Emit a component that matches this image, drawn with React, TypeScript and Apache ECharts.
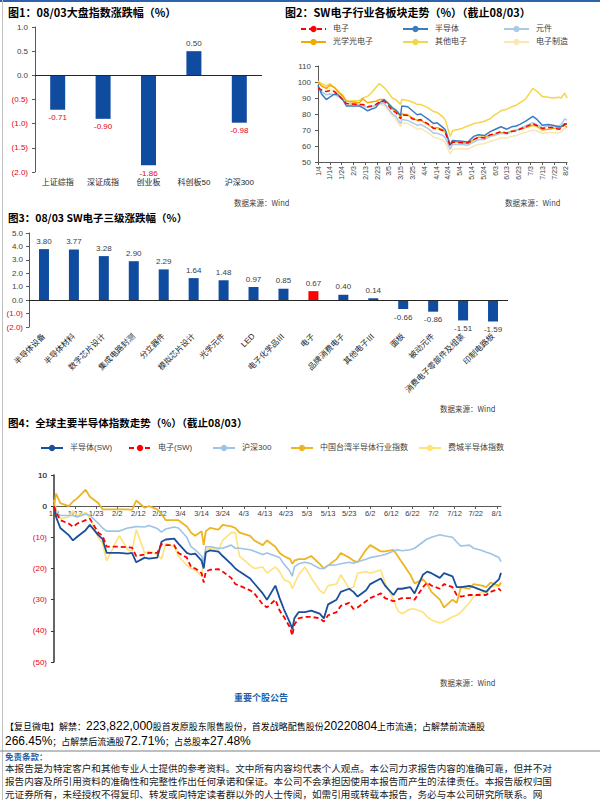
import React, { useEffect, useRef } from "react";
import * as echarts from "echarts";

// ---------------- DATA ----------------
const fig1Categories = ["上证综指", "深证成指", "创业板", "科创板50", "沪深300"];
const fig1Values = [-0.71, -0.9, -1.86, 0.5, -0.98];

const fig3Categories = [
  "半导体设备", "半导体材料", "数字芯片设计", "集成电路封测", "分立器件", "模拟芯片设计",
  "光学元件", "LED", "电子化学品Ⅲ", "电子", "品牌消费电子", "其他电子Ⅲ", "面板",
  "被动元件", "消费电子零部件及组装", "印制电路板",
];
const fig3Values = [3.8, 3.77, 3.28, 2.9, 2.29, 1.64, 1.48, 0.97, 0.85, 0.67, 0.4, 0.14, -0.66, -0.86, -1.51, -1.59];
const fig3Highlight = "电子";

// Figure 4 positive y tick labels (drawn at the axis' own pixel positions)
const fig4PositiveTicks = [10, 0];

// Figure 2: SW electronics sub-sectors (index, 1/4 = 100)
const fig2Dates = [
  "1/4", "1/7", "1/11", "1/14", "1/18", "1/21", "1/25", "1/28",
  "2/8", "2/11", "2/15", "2/18", "2/22", "2/25",
  "3/1", "3/4", "3/8", "3/11", "3/15", "3/16", "3/21", "3/25", "3/29",
  "4/1", "4/7", "4/12", "4/15", "4/20", "4/22", "4/26", "4/28",
  "5/6", "5/11", "5/16", "5/20", "5/25", "5/30",
  "6/2", "6/8", "6/13", "6/17", "6/21", "6/24", "6/29",
  "7/5", "7/8", "7/13", "7/18", "7/22", "7/27", "7/29",
  "8/1", "8/3",
];
const fig2Dianzi = [
  96.5, 95, 94, 94.5, 94, 92, 89, 86.5,
  86, 86, 84.5, 85, 86, 87.5,
  88, 86, 82, 81, 77, 79.5, 79, 77, 76,
  76.5, 74, 71, 71, 69.5, 68, 60, 62.5,
  62, 62, 64, 65.5, 65, 67,
  67.5, 69, 68, 69, 69.5, 70.5, 72,
  74, 73, 71, 71.5, 71.5, 70.5, 71,
  73.5, 74,
];
const fig2Bandaoti = [
  98, 92.5, 89, 90.5, 92.5, 92, 89, 85,
  85, 84, 82, 83, 84, 87,
  89, 87, 84, 82.5, 79, 85, 84.5, 82, 79.5,
  80, 77, 74, 74.5, 71.5, 70, 60.5, 63.5,
  63, 62.5, 66, 67, 66.5, 69,
  70, 72, 70.5, 72, 72.5, 73.5, 75.5,
  78.5, 77, 73, 73.5, 73, 72, 72,
  74, 73.5,
];
const fig2Yuanjian = [
  97, 94, 92, 92.5, 92, 91, 89, 86.5,
  86, 85.5, 84, 84.5, 85.5, 86.5,
  86.5, 84, 80, 78.5, 74, 76.5, 76, 74.5, 73,
  73.5, 71, 68, 68, 66.5, 65, 58, 61,
  61, 60.5, 62.5, 64, 64, 66,
  66.5, 68, 67.5, 69, 69.5, 71, 72.5,
  74.5, 73.5, 71.5, 72.5, 72.5, 72.5, 73.5,
  77, 76,
];
const fig2Guangxue = [
  100, 97.5, 96, 98, 96.5, 94, 91, 88,
  87, 89.5, 87, 87.5, 88, 89,
  89, 87, 83, 82, 78.5, 80, 79.5, 77.5, 76,
  76, 73.5, 71, 71.5, 70, 68.5, 61, 63,
  62, 61.5, 64, 65.5, 65.5, 67,
  67, 68.5, 68, 69.5, 70, 70.5, 71.5,
  73, 72.5, 70, 70.5, 71, 71.5, 72,
  73, 71.5,
];
const fig2Qita = [
  100.5, 99, 97.5, 99, 96.5, 94, 92, 88,
  88.5, 90, 91, 93, 96.5, 99,
  96.5, 94, 90, 89, 86, 89, 88.5, 87.5, 86,
  86, 84, 81.5, 81, 78, 76, 66, 69.5,
  71, 72.5, 74, 74.5, 75.5, 77,
  79, 82, 83, 84.5, 85.5, 87, 89.5,
  96, 94.5, 91, 90.5, 90, 90.5, 90,
  93, 90,
];
const fig2Zhizao = [
  99.5, 98, 96, 95.5, 94, 92, 89, 86,
  85.5, 85, 84, 84.5, 85, 86,
  85.5, 83, 79, 77, 72, 74.5, 74, 72.5, 70.5,
  71, 68.5, 65.5, 65, 63.5, 62, 55, 58,
  58.5, 58, 60, 61, 61.5, 63,
  63.5, 65, 65, 66, 66.5, 67.5, 68.5,
  70, 69.5, 68, 68.5, 68.5, 68, 69,
  71, 70,
];

// Figure 4: global semiconductor indices (% change since 1/3)
const fig4Dates = [
  "1/3", "1/4", "1/6", "1/10", "1/12", "1/14", "1/18", "1/20", "1/24", "1/26", "1/28",
  "2/1", "2/3", "2/7", "2/9", "2/11", "2/15", "2/17", "2/21", "2/23", "2/25",
  "3/1", "3/3", "3/7", "3/9", "3/11", "3/14", "3/15", "3/16", "3/18", "3/22", "3/24", "3/28", "3/30",
  "4/1", "4/6", "4/8", "4/12", "4/14", "4/18", "4/20", "4/22", "4/25", "4/26", "4/27", "4/29",
  "5/2", "5/5", "5/9", "5/11", "5/13", "5/17", "5/19", "5/23", "5/25", "5/27", "5/31",
  "6/2", "6/7", "6/9", "6/13", "6/15", "6/17", "6/21", "6/23", "6/27", "6/29",
  "7/1", "7/5", "7/7", "7/11", "7/13", "7/15", "7/19", "7/21", "7/25", "7/27", "7/29",
  "8/2", "8/3",
];
const fig4Semi = [
  0, -3.5, -7, -9.3, -11, -9.8, -7.7, -6, -9.3, -10.5, -15,
  -15, -15, -15.2, -15, -18, -16.5, -16.8, -16.5, -11.4, -10.7,
  -10.4, -12, -15, -15.5, -15.2, -17.5, -20, -14.8, -14.2, -14.6, -16, -18.5, -20,
  -21, -23.2, -24.8, -28, -30, -25.5, -29.5, -33, -37.5, -39.5, -36, -34,
  -34, -33.5, -34.5, -36, -31.5, -30, -27.5, -26.5, -27.5, -29, -27,
  -25, -23.2, -25.5, -28.5, -26.5, -26.5, -26, -28, -22, -21,
  -21.5, -23, -21.5, -22.5, -26, -26, -25.6, -26, -27, -27.5, -26,
  -23.5, -21.4,
];
const fig4Elec = [
  0, -2, -4.5, -5.6, -6.6, -5.6, -4.5, -4, -8.5, -9.5, -13,
  -13, -13, -13.2, -13.3, -16, -15.5, -15, -15, -12.2, -12.5,
  -12.5, -15, -16.5, -19.5, -20, -21.5, -24.5, -21, -20.4, -20.2, -21, -23, -25,
  -25.5, -27, -28, -31.5, -32.5, -30, -33.5, -35.5, -39, -41.5, -38, -36,
  -35.5, -35.5, -36, -37, -35, -34, -32, -31, -33, -32.5, -30.5,
  -29.5, -28, -29.5, -30.5, -30, -29.5, -29.5, -30, -26, -24.5,
  -25.5, -26.5, -25, -26, -28.5, -29, -28.5, -28.5, -28.5, -28.5, -27.5,
  -26.5, -27.2,
];
const fig4Hs300 = [
  0, -2, -3, -3, -3, -3.5, -2.5, -3, -5.5, -7, -8,
  -8, -8, -7, -6.8, -6.5, -6.7, -6.2, -7.2, -8.3, -7.3,
  -6.7, -7, -10, -13, -14, -16, -18, -13, -13, -13.5, -13.5, -12.5, -13.5,
  -13.5, -14, -14.5, -15.5, -15, -16, -16.5, -18.5, -21, -22.5, -19.5, -18.5,
  -18, -18.5, -20, -20, -19, -18.8, -18.5, -18, -18.3, -17.8, -17,
  -16.5, -15.8, -15.5, -14.5, -14, -14.3, -14, -13.5, -11.5, -10.5,
  -10, -9.2, -9.5, -10, -11.5, -12.8, -12.5, -13.5, -14.2, -14.8, -15.2,
  -16.5, -17.8,
];
const fig4Taiwan = [
  0, 4, 1, 0, 1.5, 2.5, 5.3, 3, 1, -1, -1,
  -1, -1, -1, -1.2, 1.8, -0.5, 0, -1, -2.5, -4.5,
  -4.5, -4.5, -6.5, -8.5, -9.5, -8, -12.5, -8, -7, -7.5, -6, -6.5, -7,
  -8.5, -9.5, -11, -12.5, -11, -13, -15, -16, -17, -18.5, -17.5, -17,
  -17, -16, -18.5, -20, -19, -17, -15, -16.5, -17.5, -18, -14,
  -12.5, -14.5, -14.5, -14, -16, -18, -22, -24.8, -23.5, -25,
  -27.5, -30, -32.5, -30, -31, -26, -26.5, -25, -25.5, -26, -24.5,
  -25.5, -24.5,
];
const fig4Phil = [
  2, -1, -4, -3.5, -1.5, -3, -2, -4, -10, -12, -17.5,
  -12, -9.5, -14, -14.5, -7.5, -15, -14.5, -15.5, -17, -12,
  -13, -16, -19, -20, -20.5, -22.5, -17, -14, -13.5, -14, -11, -8.5, -8.5,
  -16, -19, -20, -19.5, -21.5, -19.5, -21, -23.5, -24.5, -26.5, -25, -22,
  -19.5, -23, -27, -28, -25.5, -25, -22, -26.5, -26, -21.5, -21,
  -21.5, -20.5, -24.5, -30, -33.5, -34.5, -33, -33, -34, -35.5,
  -36.5, -37.5, -37, -35.5, -35, -34, -31, -29, -27.5, -28.5, -26,
  -25.5, -25,
];

// ---------------- HELPERS ----------------
const MONTH_START = [0, 31, 59, 90, 120, 151, 181, 212, 243, 273, 304, 334];
const doy = (md: string) => {
  const [m, d] = md.split("/").map(Number);
  return MONTH_START[m - 1] + d;
};
const mdFromDoy = (n: number) => {
  let m = 11;
  while (m > 0 && MONTH_START[m] >= n) m--;
  return `${m + 1}/${n - MONTH_START[m]}`;
};
const FIG2_BASE = doy("1/4");
const FIG4_BASE = doy("1/3");
const FIG2_MAX = doy("8/3") - FIG2_BASE;
const FIG4_MAX = doy("8/3") - FIG4_BASE;
const pts = (dates: string[], vals: number[], base: number) =>
  dates.map((d, i) => [doy(d) - base, vals[i]]);

const FONT = '"Liberation Sans", "Noto Sans CJK SC", sans-serif';
const CJK = '"Noto Sans CJK SC", sans-serif';
const GREY = "#404040";
const RED = "#E60012";
const BAR = "#0F4C9F";
const BLUE_TXT = "#1F5FA8";

const negRich = {
  n: { color: RED, fontSize: 8, fontFamily: FONT },
  p: { color: GREY, fontSize: 8, fontFamily: FONT },
};
const fmt1 = (v: number) => (v < 0 ? `{n|(${(-v).toFixed(1)})}` : `{p|${v.toFixed(1)}}`);
const fmt0 = (v: number) => (v < 0 ? `{n|(${-v})}` : `{p|${v}}`);

const legendItem = (name: string, left: number, top: number, w: number) => ({
  data: [name],
  left,
  top,
  padding: 0,
  itemWidth: w,
  itemHeight: 8,
  selectedMode: false,
  textStyle: { fontSize: 8, color: GREY, fontFamily: FONT, padding: [0, 0, 0, 2] },
});

const lineSeries = (name: string, data: number[][], idx: number, color: string, width: number, dashed = false) => ({
  name,
  type: "line",
  xAxisIndex: idx,
  yAxisIndex: idx,
  data,
  symbol: "none",
  silent: true,
  lineStyle: { color, width, type: dashed ? [5, 3] : "solid" },
  itemStyle: { color },
});

const zeroLine = {
  silent: true,
  symbol: "none",
  label: { show: false },
  lineStyle: { color: "#262626", width: 1, type: "solid" },
  data: [{ yAxis: 0 }],
};

const txt = (x: number, y: number, text: string, o: any = {}) => ({
  type: "text",
  x,
  y,
  silent: true,
  style: {
    text,
    fill: o.fill || "#000",
    fontSize: o.size || 11,
    fontWeight: o.bold ? "bold" : "normal",
    fontFamily: o.font || CJK,
    verticalAlign: "middle",
    align: o.align || "left",
    rich: o.rich,
  },
});

const dateAxisLabel = (base: number, rotate: number) => ({
  rotate,
  fontSize: 7.5,
  color: GREY,
  margin: 4,
  showMaxLabel: false,
  formatter: (v: number) => (v % 10 === 0 ? mdFromDoy(v + base) : ""),
});

const yAx = (grid: number, min: number, max: number, interval: number, label: any, lineColor = "#595959", lineWidth = 1) => ({
  gridIndex: grid, type: "value", min, max, interval,
  splitLine: { show: false },
  axisLine: { show: true, lineStyle: { color: lineColor, width: lineWidth } },
  axisTick: { show: true, length: 3 },
  axisLabel: { showMinLabel: true, showMaxLabel: true, ...label },
});

export default function App() {
  const ref = useRef<HTMLDivElement>(null);
  useEffect(() => {
    document.body.style.margin = "0";
    const chart = echarts.init(ref.current!, undefined, { renderer: "svg" });

    const richA = { fontSize: 9, fontFamily: CJK, fill: "#000" };
    const richB = { fontSize: 12, fontFamily: FONT, fill: "#000" };

    const graphics: any[] = [
      { type: "rect", silent: true, shape: { x: 0, y: 0, width: 600, height: 2 }, style: { fill: "#2F62AD" } },
      { type: "line", silent: true, shape: { x1: 2.5, y1: 0, x2: 2.5, y2: 800 }, style: { stroke: "#BFBFBF", lineWidth: 1 } },
      { type: "line", silent: true, shape: { x1: 0, y1: 751, x2: 600, y2: 751 }, style: { stroke: "#7F7F7F", lineWidth: 1 } },
      txt(8, 12, "图1：08/03大盘指数涨跌幅（%）", { bold: true, size: 11 }),
      txt(285, 12, "图2：SW电子行业各板块走势（%）（截止08/03）", { bold: true, size: 11 }),
      txt(8, 217, "图3：08/03 SW电子三级涨跌幅（%）", { bold: true, size: 10.5 }),
      txt(8, 422, "图4：全球主要半导体指数走势（%）（截止08/03）", { bold: true, size: 10.5 }),
      txt(234, 202, "数据来源：Wind", { size: 7.5, fill: GREY }),
      txt(505, 202, "数据来源：Wind", { size: 7.5, fill: GREY }),
      txt(440, 408, "数据来源：Wind", { size: 7.5, fill: GREY }),
      txt(440, 682, "数据来源：Wind", { size: 7.5, fill: GREY }),
      txt(261, 697, "重要个股公告", { size: 9, bold: true, fill: BLUE_TXT, align: "center" }),
      txt(5, 726, "{a|【复旦微电】解禁：}{b|223,822,000}{a|股首发原股东限售股份，首发战略配售股份}{b|20220804}{a|上市流通；占解禁前流通股}", {
        rich: { a: richA, b: richB },
      }),
      txt(5, 741, "{b|266.45%}{a|；占解禁后流通股}{b|72.71%}{a|；占总股本}{b|27.48%}", {
        rich: { a: richA, b: richB },
      }),
      txt(5, 756, "免责条款：", { size: 8.5, bold: true, fill: BLUE_TXT }),
      txt(5, 768, "本报告是为特定客户和其他专业人士提供的参考资料。文中所有内容均代表个人观点。本公司力求报告内容的准确可靠，但并不对", { size: 9.6, fill: "#222" }),
      txt(5, 781, "报告内容及所引用资料的准确性和完整性作出任何承诺和保证。本公司不会承担因使用本报告而产生的法律责任。本报告版权归国", { size: 9.6, fill: "#222" }),
      txt(5, 794, "元证券所有，未经授权不得复印、转发或向特定读者群以外的人士传阅，如需引用或转载本报告，务必与本公司研究所联系。网", { size: 9.6, fill: "#222" }),
      txt(5, 807, "址：www.gyzq.com.cn", { size: 9.6, fill: "#222" }),
    ];

    const option: any = {
      animation: false,
      textStyle: { fontFamily: FONT },
      grid: [
        { left: 35, top: 27, width: 227, height: 145 },
        { left: 318, top: 66, width: 249, height: 96 },
        { left: 29, top: 233, width: 479, height: 94 },
        { left: 54, top: 475, width: 447, height: 187 },
        // upper part of figure 4 (above zero) — carries the date axis on the zero line
        { left: 54, top: 475, width: 447, height: 31 },
      ],
      xAxis: [
        {
          gridIndex: 0, type: "category", data: fig1Categories,
          axisLine: { show: false }, axisTick: { show: false },
          axisLabel: { interval: 0, fontSize: 8, color: "#262626", margin: 6 },
        },
        {
          gridIndex: 1, type: "value", min: 0, max: FIG2_MAX, interval: 10,
          splitLine: { show: false },
          axisLine: { show: true, onZero: false, lineStyle: { color: "#595959" } },
          axisTick: { show: true, length: 3, lineStyle: { color: "#595959" } },
          axisLabel: { ...dateAxisLabel(FIG2_BASE, 90), fontSize: 7 },
        },
        {
          gridIndex: 2, type: "category", data: fig3Categories,
          axisLine: { show: false }, axisTick: { show: false },
          axisLabel: { interval: 0, rotate: 45, fontSize: 8, color: "#262626", margin: 8 },
        },
        {
          gridIndex: 3, type: "value", min: 0, max: FIG4_MAX, interval: 10, show: false,
          splitLine: { show: false },
        },
        {
          gridIndex: 4, type: "value", min: 0, max: FIG4_MAX, interval: 10, position: "bottom",
          splitLine: { show: false },
          axisLine: { show: true, onZero: false, lineStyle: { color: "#595959" } },
          axisTick: { show: true, length: 3, lineStyle: { color: "#595959" } },
          axisLabel: dateAxisLabel(FIG4_BASE, 0),
        },
      ],
      yAxis: [
        yAx(0, -2, 1, 0.5, { formatter: fmt1, rich: negRich, margin: 7 }),
        yAx(1, 50, 110, 10, { fontSize: 8, color: GREY, margin: 7 }),
        yAx(2, -2, 5, 1, { formatter: fmt1, rich: negRich, margin: 6 }),
        yAx(3, -50, 10, 10, { formatter: fmt0, rich: negRich, margin: 7 }, "#333333", 1.5),
        { gridIndex: 4, type: "value", min: 0, max: 10, show: false },
      ],
      legend: [
        legendItem("电子", 300, 25, 25),
        legendItem("半导体", 402, 25, 25),
        legendItem("元件", 503, 25, 25),
        legendItem("光学光电子", 300, 38, 25),
        legendItem("其他电子", 402, 38, 25),
        legendItem("电子制造", 503, 38, 25),
        legendItem("半导体(SW)", 40, 444, 22),
        legendItem("电子(SW)", 128, 444, 22),
        legendItem("沪深300", 212, 444, 22),
        legendItem("中国台湾半导体行业指数", 290, 444, 22),
        legendItem("费城半导体指数", 418, 444, 22),
      ],
      series: [
        {
          type: "bar", xAxisIndex: 0, yAxisIndex: 0, barWidth: 15, silent: true,
          data: fig1Values.map((v) => ({
            value: v,
            itemStyle: { color: BAR },
            label: { position: v < 0 ? "bottom" : "top", color: v < 0 ? RED : GREY },
          })),
          label: { show: true, fontSize: 8, distance: 4, formatter: (p: any) => Number(p.value).toFixed(2) },
          markLine: zeroLine,
        },
        {
          type: "bar", xAxisIndex: 2, yAxisIndex: 2, barWidth: 10, silent: true,
          data: fig3Values.map((v, i) => ({
            value: v,
            itemStyle: { color: fig3Categories[i] === fig3Highlight ? "#FF0000" : BAR },
            label: { position: v < 0 ? "bottom" : "top" },
          })),
          label: { show: true, fontSize: 8, color: GREY, distance: 4, formatter: (p: any) => Number(p.value).toFixed(2) },
          markLine: zeroLine,
        },
        lineSeries("电子制造", pts(fig2Dates, fig2Zhizao, FIG2_BASE), 1, "#FBE7B5", 1.5),
        lineSeries("其他电子", pts(fig2Dates, fig2Qita, FIG2_BASE), 1, "#F5D54A", 1.5),
        lineSeries("光学光电子", pts(fig2Dates, fig2Guangxue, FIG2_BASE), 1, "#F2A900", 1.5),
        lineSeries("元件", pts(fig2Dates, fig2Yuanjian, FIG2_BASE), 1, "#A9CBEA", 1.5),
        lineSeries("半导体", pts(fig2Dates, fig2Bandaoti, FIG2_BASE), 1, "#3A7CC4", 1.5),
        lineSeries("电子", pts(fig2Dates, fig2Dianzi, FIG2_BASE), 1, "#FF0000", 1.5, true),
        lineSeries("费城半导体指数", pts(fig4Dates, fig4Phil, FIG4_BASE), 3, "#FFE27A", 1.6),
        lineSeries("中国台湾半导体行业指数", pts(fig4Dates, fig4Taiwan, FIG4_BASE), 3, "#EEB422", 1.8),
        lineSeries("沪深300", pts(fig4Dates, fig4Hs300, FIG4_BASE), 3, "#9DC3E6", 1.6),
        lineSeries("半导体(SW)", pts(fig4Dates, fig4Semi, FIG4_BASE), 3, "#1A4F9C", 1.8),
        lineSeries("电子(SW)", pts(fig4Dates, fig4Elec, FIG4_BASE), 3, "#FF0000", 1.8, true),
      ],
      graphic: graphics,
    };

    chart.setOption(option);

    // positive tick labels of figure 4's y axis, placed through the axis' own scale
    const axisX = chart.convertToPixel({ xAxisIndex: 3 }, 0) as number;
    const extra = fig4PositiveTicks.map((v) => {
      const py = chart.convertToPixel({ yAxisIndex: 3 }, v) as number;
      return txt(axisX - 7, py, String(v), { size: 8, fill: GREY, font: FONT, align: "right" });
    });
    chart.setOption({ graphic: graphics.concat(extra) });

    return () => chart.dispose();
  }, []);

  return <div ref={ref} style={{ width: 600, height: 800 }} />;
}
